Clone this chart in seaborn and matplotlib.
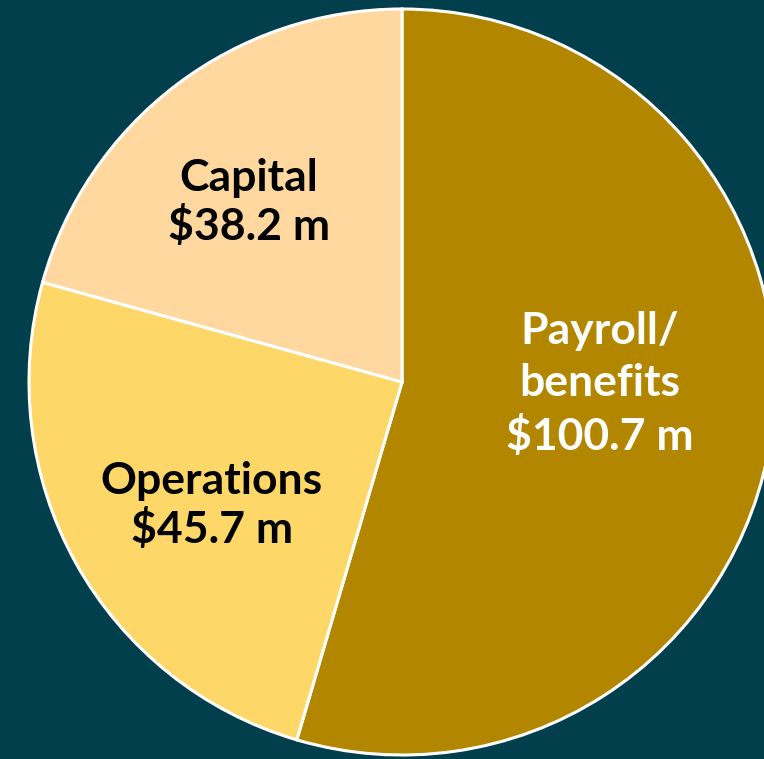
import matplotlib
matplotlib.use("Agg")
import matplotlib.pyplot as plt
import seaborn as sns

# budget split, millions of dollars
categories = ["Payroll/\nbenefits", "Operations", "Capital"]
values = [100.7, 45.7, 38.2]
value_labels = ["$100.7 m", "$45.7 m", "$38.2 m"]

slice_colors = ["#B38600", "#FDD868", "#FED89E"]
text_colors = ["white", "black", "black"]
label_pos = [(0.53, -0.005), (-0.51, -0.33), (-0.41, 0.482)]
line_gap = [1.36, 1.2, 1.2]

bg = "#023F4D"

sns.set_style("white")
plt.rcParams['font.family'] = ['Lato', 'DejaVu Sans']

fig = plt.figure(figsize=(7.64, 7.59), dpi=100, facecolor=bg)
r_px = 373
cx, cy = 402, 759 - 382
ax = fig.add_axes([(cx - r_px) / 764, (cy - r_px) / 759, 2 * r_px / 764, 2 * r_px / 759])
ax.set_facecolor(bg)

ax.pie(values, colors=slice_colors, startangle=90, counterclock=False,
       radius=1, wedgeprops=dict(edgecolor="white", linewidth=2.2))
ax.set_xlim(-1, 1)
ax.set_ylim(-1, 1)
ax.set_aspect("auto")

for name, val, (x, y), c, ls in zip(categories, value_labels, label_pos, text_colors, line_gap):
    ax.text(x, y, f"{name}\n{val}", ha="center", va="center", color=c,
            fontsize=32, fontweight="bold", linespacing=ls)

fig.savefig("out.png", dpi=100, facecolor=bg)
